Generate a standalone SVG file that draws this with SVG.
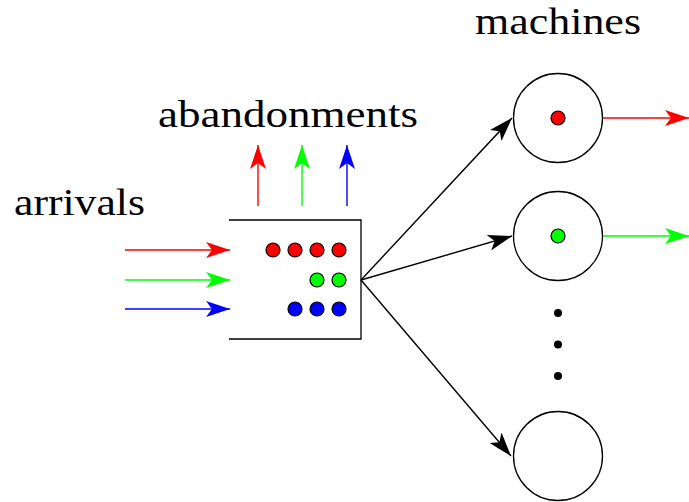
<svg xmlns="http://www.w3.org/2000/svg" width="689" height="502" viewBox="0 0 689 502">
<style>
text{font-family:"Liberation Serif","DejaVu Serif",serif;font-size:38px;fill:#000}
.ln{fill:none;stroke-width:1.4}
.dot{stroke:#000;stroke-width:1.2}
.m{fill:none;stroke:#000;stroke-width:1.3}
</style>
<defs>
<marker id="ak" viewBox="0 0 24 16" refX="24" refY="8" markerWidth="24" markerHeight="16" markerUnits="userSpaceOnUse" orient="auto"><path d="M0,0 L24,8 L0,16 L6,8 Z" fill="#000"/></marker>
<marker id="ar" viewBox="0 0 24 16" refX="24" refY="8" markerWidth="24" markerHeight="16" markerUnits="userSpaceOnUse" orient="auto"><path d="M0,0 L24,8 L0,16 L6,8 Z" fill="#f00"/></marker>
<marker id="ag" viewBox="0 0 24 16" refX="24" refY="8" markerWidth="24" markerHeight="16" markerUnits="userSpaceOnUse" orient="auto"><path d="M0,0 L24,8 L0,16 L6,8 Z" fill="#0f0"/></marker>
<marker id="ab" viewBox="0 0 24 16" refX="24" refY="8" markerWidth="24" markerHeight="16" markerUnits="userSpaceOnUse" orient="auto"><path d="M0,0 L24,8 L0,16 L6,8 Z" fill="#00f"/></marker>
</defs>
<g id="labels">
<text x="475" y="34" textLength="166" lengthAdjust="spacingAndGlyphs">machines</text>
<text x="158" y="127" textLength="260" lengthAdjust="spacingAndGlyphs">abandonments</text>
<text x="14" y="215" textLength="131" lengthAdjust="spacingAndGlyphs">arrivals</text>
</g>
<g id="queue">
<path d="M229,220 H361 V339 H229" class="m"/>
<circle class="dot" cx="273" cy="250" r="7" fill="#f00"/>
<circle class="dot" cx="295" cy="250" r="7" fill="#f00"/>
<circle class="dot" cx="317" cy="250" r="7" fill="#f00"/>
<circle class="dot" cx="339" cy="250" r="7" fill="#f00"/>
<circle class="dot" cx="317" cy="280" r="7" fill="#0f0"/>
<circle class="dot" cx="339" cy="280" r="7" fill="#0f0"/>
<circle class="dot" cx="295" cy="309" r="7" fill="#00f"/>
<circle class="dot" cx="317" cy="309" r="7" fill="#00f"/>
<circle class="dot" cx="339" cy="309" r="7" fill="#00f"/>
</g>
<g id="machine1">
<circle class="m" cx="558" cy="118" r="44.5"/>
<circle class="dot" cx="558" cy="118" r="7" fill="#f00"/>
</g>
<g id="machine2">
<circle class="m" cx="558" cy="236" r="44.5"/>
<circle class="dot" cx="558" cy="236" r="7" fill="#0f0"/>
</g>
<g id="machine3">
<circle class="m" cx="558" cy="456" r="44.5"/>
</g>
<g id="ellipsis">
<circle cx="558" cy="313" r="4" fill="#000"/>
<circle cx="558" cy="344.5" r="4" fill="#000"/>
<circle cx="558" cy="376" r="4" fill="#000"/>
</g>
<g id="connectors">
<line class="ln" x1="125" y1="250" x2="230" y2="250" stroke="#f00" marker-end="url(#ar)"/>
<line class="ln" x1="125" y1="280" x2="230" y2="280" stroke="#0f0" marker-end="url(#ag)"/>
<line class="ln" x1="125" y1="309" x2="230" y2="309" stroke="#00f" marker-end="url(#ab)"/>
<line class="ln" x1="258" y1="206" x2="258" y2="145" stroke="#f00" marker-end="url(#ar)"/>
<line class="ln" x1="302" y1="206" x2="302" y2="145" stroke="#0f0" marker-end="url(#ag)"/>
<line class="ln" x1="347" y1="206" x2="347" y2="145" stroke="#00f" marker-end="url(#ab)"/>
<line class="ln" x1="361" y1="280" x2="512" y2="118" stroke="#000" marker-end="url(#ak)"/>
<line class="ln" x1="361" y1="280" x2="512" y2="236" stroke="#000" marker-end="url(#ak)"/>
<line class="ln" x1="361" y1="280" x2="511" y2="456" stroke="#000" marker-end="url(#ak)"/>
<line class="ln" x1="603" y1="118" x2="689" y2="118" stroke="#f00" marker-end="url(#ar)"/>
<line class="ln" x1="603" y1="236" x2="689" y2="236" stroke="#0f0" marker-end="url(#ag)"/>
</g>
</svg>
